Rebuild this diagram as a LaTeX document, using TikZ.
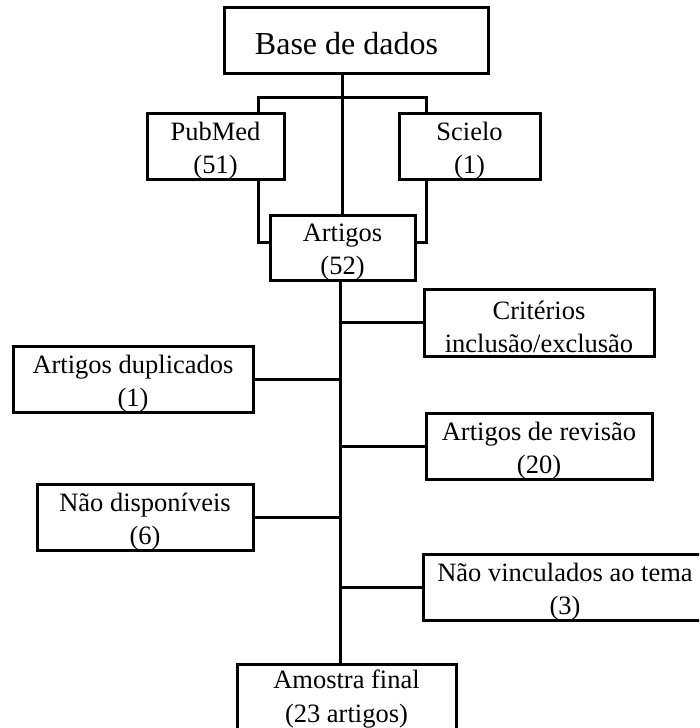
\documentclass[tikz,border=0pt]{standalone}
\usepackage{fontspec}
\setmainfont{Liberation Serif}
\begin{document}
\begin{tikzpicture}[x=1pt,y=-1pt,
  box/.style={draw,line width=3pt,inner sep=0pt},
  txt/.style={inner sep=0pt,align=center,yshift=-4.5pt,
    font=\fontsize{26.5}{33.5}\selectfont},
  topbox/.style={draw,line width=3pt,inner sep=0pt,
    font=\fontsize{32}{38}\selectfont},
  link/.style={line width=3pt}]
\useasboundingbox (0,0) rectangle (699,728);
\clip (0,0) rectangle (699,728);
\node[topbox,minimum width=264pt,minimum height=66pt] (base) at (356,40) {\kern-19pt\rule{0pt}{36pt}\rule[-8pt]{0pt}{8pt}Base de dados};
\node[box,minimum width=137pt,minimum height=66pt] (pubmed) at (215.5,146) {};
\node[txt] (pubmedT) at (pubmed.center) {PubMed\\(51)};
\node[box,minimum width=141pt,minimum height=66pt] (scielo) at (469.5,146) {};
\node[txt] (scieloT) at (scielo.center) {Scielo\\(1)};
\node[box,minimum width=145pt,minimum height=65pt] (artigos) at (342.5,247.5) {};
\node[txt] (artigosT) at (artigos.center) {Artigos\\(52)};
\node[box,minimum width=230pt,minimum height=67pt] (crit) at (539,322.5) {};
\node[txt] (critT) at (crit.center) {Critérios\\inclusão/exclusão};
\node[box,minimum width=240pt,minimum height=66pt] (dup) at (133,379) {};
\node[txt] (dupT) at (dup.center) {Artigos duplicados\\(1)};
\node[box,minimum width=226pt,minimum height=66pt] (rev) at (539,446) {};
\node[txt] (revT) at (rev.center) {Artigos de revisão\\(20)};
\node[box,minimum width=216pt,minimum height=66pt] (disp) at (145,517) {};
\node[txt] (dispT) at (disp.center) {Não disponíveis\\(6)};
\node[box,minimum width=284pt,minimum height=66pt] (vinc) at (565,587) {};
\node[txt] (vincT) at (vinc.center) {Não vinculados ao tema\\(3)};
\node[box,minimum width=219pt,minimum height=66pt] (amostra) at (346.5,697) {};
\node[txt,yshift=2.5pt] (amostraT) at (amostra.center) {Amostra final\\(23 artigos)};
\coordinate (bl) at (258,97);
\coordinate (br) at (426,97);
\coordinate (pl) at (258,242);
\coordinate (pr) at (426,242);
\coordinate (sp) at (340,0);
\draw[link] (artigos.north |- base.south) -- (artigos.north);
\draw[link] (pubmed.north -| bl) -- (bl) -- (br) -- (scielo.north -| br);
\draw[link] (pubmed.south -| pl) -- (pl) -- (pl -| artigos.west);
\draw[link] (scielo.south -| pr) -- (pr) -- (pr -| artigos.east);
\draw[link] (artigos.south -| sp) -- (amostra.north -| sp);
\draw[link] (sp |- crit.west) -- (crit.west);
\draw[link] (dup.east) -- (sp |- dup.east);
\draw[link] (sp |- rev.west) -- (rev.west);
\draw[link] (disp.east) -- (sp |- disp.east);
\draw[link] (sp |- vinc.west) -- (vinc.west);
\end{tikzpicture}
\end{document}
